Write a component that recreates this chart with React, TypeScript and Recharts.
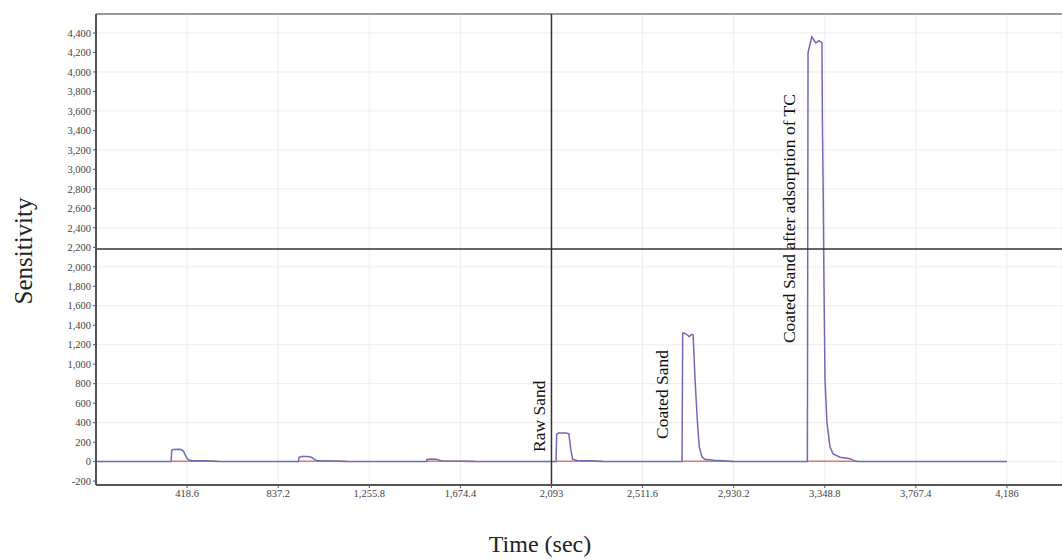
import { CartesianGrid, Line, LineChart, ReferenceDot, ReferenceLine, XAxis, YAxis } from "recharts";


// blue trace: [time (sec), sensitivity]
const bluePoints: [number, number][] = [
  [0, 0], [345, 0], [348, 118], [355, 125], [380, 127], [392, 124], [402, 108], [410, 70], [418, 35], [428, 16], [440, 10], [500, 8], [540, 4], [560, 0],
  [930, 0], [933, 45], [945, 52], [975, 52], [990, 45], [1005, 20], [1020, 8], [1080, 6], [1150, 0],
  [1518, 0], [1521, 22], [1540, 26], [1565, 24], [1585, 10], [1600, 6], [1680, 4], [1730, 0],
  [2114, 0], [2117, 280], [2125, 294], [2160, 294], [2173, 285], [2182, 120], [2190, 25], [2210, 12], [2280, 8], [2320, 0],
  [2693, 0], [2696, 1320], [2705, 1318], [2718, 1300], [2726, 1283], [2737, 1307], [2744, 1300], [2753, 838], [2763, 428], [2772, 154], [2784, 51], [2797, 25], [2840, 15], [2881, 10], [2922, 0],
  [3269, 0], [3272, 4200], [3289, 4361], [3308, 4298], [3322, 4321], [3336, 4300], [3338, 3500], [3342, 2689], [3345, 1867], [3350, 838], [3359, 400], [3373, 150], [3387, 80], [3419, 45], [3465, 30], [3479, 15], [3497, 0],
  [4186, 0],
];

// red trace segments (start, end, level)
const redStarts = [349, 933, 1521, 2117, 2693, 3272];
const redEnds = [560, 1153, 1741, 2330, 2927, 3500];
const redLevel = 4;

const xTicks = [418.6, 837.2, 1255.8, 1674.4, 2093, 2511.6, 2930.2, 3348.8, 3767.4, 4186];
const yTicks = [-200, 0, 200, 400, 600, 800, 1000, 1200, 1400, 1600, 1800, 2000, 2200, 2400, 2600, 2800, 3000, 3200, 3400, 3600, 3800, 4000, 4200, 4400];
const xDomain = [0, 4439];
const yDomain = [-240, 4595];

// cursor cross-hair
const cursorTime = 2093;
const cursorValue = 2182;

const annotationLabels = ["Raw Sand", "Coated Sand", "Coated Sand after adsorption of TC"];
const annotationTimes = [2063, 2628, 3212];
const annotationValues = [100, 233, 1217];


const blueData = bluePoints.map(([t, v]) => ({ t, v }));
const redData = redStarts.map((s, i) => [{ t: s, v: redLevel }, { t: redEnds[i], v: redLevel }]);

const fmt = (v: number) => v.toLocaleString("en-US", { maximumFractionDigits: 1 });

const SERIF = "'Liberation Serif', 'Times New Roman', serif";

function VerticalNote({ viewBox, text }: any) {
  const x = viewBox.x + (viewBox.width || 0) / 2;
  const y = viewBox.y + (viewBox.height || 0) / 2;
  return (
    <text x={x} y={y} transform={`rotate(-90, ${x}, ${y})`} textAnchor="start" fontFamily={SERIF} fontSize={17.5} fill="#111">
      {text}
    </text>
  );
}


export default function App() {
  return (
    <div style={{ position: "absolute", left: 0, top: 0, width: 1062, height: 560, background: "#fff" }}>
      <LineChart width={1062} height={560} margin={{ top: 14, right: 0, bottom: 0, left: 0 }}>
        <CartesianGrid stroke="#ececf3" strokeWidth={1} />
        <XAxis
          dataKey="t"
          type="number"
          domain={xDomain}
          ticks={xTicks}
          allowDataOverflow
          height={75}
          tickFormatter={fmt}
          tick={{ fontSize: 10.5, fontFamily: SERIF, fill: "#444" }}
          tickSize={3}
          axisLine={{ stroke: "#555", strokeWidth: 2 }}
          tickLine={{ stroke: "#555" }}
        />
        <YAxis
          type="number"
          domain={yDomain}
          ticks={yTicks}
          allowDataOverflow
          width={96}
          tickFormatter={fmt}
          tick={{ fontSize: 10.5, fontFamily: SERIF, fill: "#444" }}
          tickSize={3}
          axisLine={{ stroke: "#555", strokeWidth: 2 }}
          tickLine={{ stroke: "#555" }}
        />
        <ReferenceLine y={yDomain[1]} stroke="#9a9a9a" strokeWidth={2} />
        {redData.map((seg, i) => (
          <Line key={i} data={seg} dataKey="v" stroke="#e87070" strokeWidth={1.5} dot={false} isAnimationActive={false} />
        ))}
        <Line data={blueData} dataKey="v" stroke="#6c6cb6" strokeWidth={1.5} dot={false} isAnimationActive={false} />
        <ReferenceLine x={cursorTime} stroke="#333" strokeWidth={1.5} />
        <ReferenceLine y={cursorValue} stroke="#333" strokeWidth={1.5} />
        {annotationLabels.map((label, i) => (
          <ReferenceDot
            key={label}
            x={annotationTimes[i]}
            y={annotationValues[i]}
            r={0}
            fill="none"
            stroke="none"
            label={{ content: (props: any) => <VerticalNote {...props} text={label} /> }}
          />
        ))}
      </LineChart>
      <svg width={1062} height={560} style={{ position: "absolute", left: 0, top: 0, pointerEvents: "none" }}>
        <text x={32} y={251} transform="rotate(-90, 32, 251)" textAnchor="middle" fontFamily={SERIF} fontSize={25} fill="#222">
          Sensitivity
        </text>
        <text x={540} y={552} textAnchor="middle" fontFamily={SERIF} fontSize={24} fill="#222">
          Time (sec)
        </text>
      </svg>
    </div>
  );
}
